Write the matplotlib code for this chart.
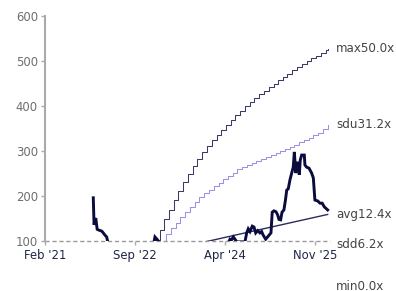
import matplotlib
matplotlib.use("Agg")
import matplotlib.pyplot as plt
import matplotlib.dates as mdates
import pandas as pd
import numpy as np

# ---- data ----
main_dates = [
    # segment 1
    "2021-12-08", "2021-12-13", "2021-12-24", "2022-01-02", "2022-01-14", "2022-01-31",
    "2022-02-08", "2022-02-21", "2022-03-04", "2022-03-11",
    None,
    # segment 2
    "2023-01-02", "2023-01-08", "2023-01-21", "2023-02-03",
    None,
    # segment 3
    "2024-04-23", "2024-05-04", "2024-05-13", "2024-05-25", "2024-06-05", "2024-06-16",
    "2024-08-08", "2024-08-19", "2024-08-29", "2024-09-09", "2024-09-24", "2024-10-05",
    "2024-10-16", "2024-10-29", "2024-11-12", "2024-11-23", "2024-12-03", "2024-12-19",
    "2025-01-05", "2025-01-22", "2025-01-30", "2025-02-10", "2025-02-23", "2025-03-06",
    "2025-03-14", "2025-03-25", "2025-04-03", "2025-04-15", "2025-04-25", "2025-05-03",
    "2025-05-13", "2025-05-24", "2025-06-04", "2025-06-14", "2025-06-21", "2025-06-30",
    "2025-07-12", "2025-07-23", "2025-07-29", "2025-08-07", "2025-08-24", "2025-08-28",
    "2025-09-08", "2025-09-23", "2025-10-10", "2025-10-21", "2025-10-31", "2025-11-18",
    "2025-12-03", "2025-12-17", "2025-12-30", "2026-01-21",
]
main_values = [
    196, 136, 151, 126, 124, 122, 119, 113, 109, 98,
    np.nan,
    98, 109, 104, 98,
    np.nan,
    96, 104, 102, 109, 104, 98,
    98, 118, 127, 121, 133, 131,
    118, 123, 118, 121, 113, 104,
    111, 118, 164, 167, 165, 158,
    148, 147, 164, 169, 191, 213,
    216, 236, 251, 264, 298, 251,
    276, 247, 280, 291, 291, 269,
    264, 262, 251, 240, 191, 189,
    184, 184, 176, 169,
]

max_dates = [
    "2023-01-08", "2023-02-08", "2023-03-08", "2023-04-08", "2023-05-08", "2023-06-08",
    "2023-07-08", "2023-08-08", "2023-09-08", "2023-10-08", "2023-11-08", "2023-12-08",
    "2024-01-08", "2024-02-08", "2024-03-08", "2024-04-08", "2024-05-08", "2024-06-08",
    "2024-07-08", "2024-08-08", "2024-09-08", "2024-10-08", "2024-11-08", "2024-12-08",
    "2025-01-08", "2025-02-08", "2025-03-08", "2025-04-08", "2025-05-08", "2025-06-08",
    "2025-07-08", "2025-08-08", "2025-09-08", "2025-10-08", "2025-11-08", "2025-12-08",
    "2026-01-08", "2026-01-21",
]
max_values = [103, 125, 148, 170, 192, 212, 231, 249, 266, 282, 297, 311,
              324, 336, 347, 358, 369, 380, 390, 399, 408, 417, 426, 434,
              442, 450, 458, 465, 472, 479, 486, 493, 499, 506, 512, 518,
              524, 527]

sdu_dates = [
    "2023-02-21", "2023-03-21", "2023-04-21", "2023-05-21", "2023-06-21",
    "2023-07-21", "2023-08-21", "2023-09-21", "2023-10-21", "2023-11-21", "2023-12-21",
    "2024-01-21", "2024-02-21", "2024-03-21", "2024-04-21", "2024-05-21", "2024-06-21",
    "2024-07-21", "2024-08-21", "2024-09-21", "2024-10-21", "2024-11-21", "2024-12-21",
    "2025-01-21", "2025-02-21", "2025-03-21", "2025-04-21", "2025-05-21", "2025-06-21",
    "2025-07-21", "2025-08-21", "2025-09-21", "2025-10-21", "2025-11-21", "2025-12-21",
    "2026-01-21",
]
sdu_values = [100, 115, 128, 141, 153, 164, 175, 186, 197, 206, 214,
              222, 229, 237, 245, 252, 259, 264, 269, 274, 278, 282, 287,
              291, 296, 301, 305, 310, 314, 319, 324, 330, 335, 341, 350,
              358]

avg_dates = ["2023-01-08", "2024-07-01", "2026-01-21"]
avg_values = [73, 115, 159]

label_names = ["max50.0x", "sdu31.2x", "avg12.4x", "sdd6.2x", "min0.0x"]
label_values = [527, 358, 159, 92, 0]
label_date = "2026-01-21"

xtick_dates = ["2021-02-01", "2022-09-01", "2024-04-01", "2025-11-01"]
xtick_labels = ["Feb '21", "Sep '22", "Apr '24", "Nov '25"]
ytick_values = [100, 200, 300, 400, 500, 600]

# ---- figure ----
W, H = 396, 291
fig = plt.figure(figsize=(W / 100, H / 100), dpi=100)
ax = fig.add_axes([45 / W, 50 / H, 285 / W, 225 / H])

def to_dt(lst):
    return [pd.Timestamp(d) if d is not None else pd.NaT for d in lst]

mx = [mdates.date2num(pd.Timestamp(d)) if d is not None else np.nan for d in main_dates]

ax.axhline(100, color="#9a9a9a", lw=1.0, dashes=(3, 2), zorder=1, clip_on=False)
ax.plot(to_dt(max_dates), max_values, drawstyle="steps-post", color="#3a3a66", lw=0.75, zorder=2)
ax.plot(to_dt(sdu_dates), sdu_values, drawstyle="steps-post", color="#9d90e6", lw=0.75, zorder=2)
ax.plot(to_dt(avg_dates), avg_values, color="#2c2c5c", lw=1.0, zorder=2)
ax.plot(mx, main_values, color="#0b0b3d", lw=2.1, solid_joinstyle="miter", zorder=3)

ax.set_ylim(100, 600)
ax.set_xlim(pd.Timestamp("2021-02-01"), pd.Timestamp("2026-02-05"))

for name, val in zip(label_names, label_values):
    ax.annotate(name, xy=(pd.Timestamp(label_date), val), xytext=(6, 0),
                textcoords="offset points", ha="left", va="center",
                fontsize=8.6, color="#444444", annotation_clip=False)

ax.set_yticks(ytick_values)
ax.set_xticks(to_dt(xtick_dates))
ax.set_xticklabels(xtick_labels)

for s in ["top", "right", "bottom"]:
    ax.spines[s].set_visible(False)
ax.spines["left"].set_color("#aaaaaa")
ax.spines["left"].set_linewidth(1.5)

ax.tick_params(axis="y", colors="#aaaaaa", labelcolor="#6e6e6e", labelsize=8.4,
               length=3, width=1, pad=2)
ax.tick_params(axis="x", colors="#aaaaaa", labelcolor="#1f2747", labelsize=8.4,
               length=3, width=1, pad=3)

fig.savefig("out.png", dpi=100)
